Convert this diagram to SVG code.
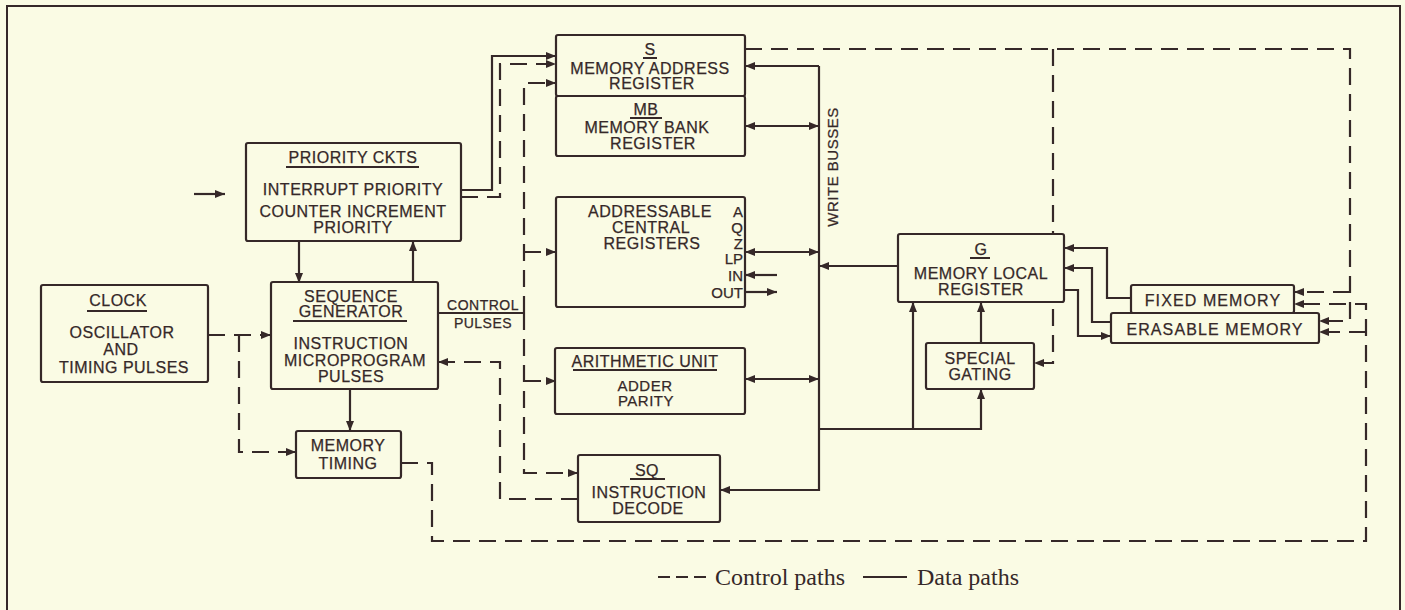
<svg xmlns="http://www.w3.org/2000/svg" width="1405" height="610" viewBox="0 0 1405 610">
<style>
.bg{fill:#fafbe4}
.box{fill:#fafbe4;stroke:#352828;stroke-width:2.2}
.d{fill:none;stroke:#352828;stroke-width:2.2}
.c{fill:none;stroke:#352828;stroke-width:2.2;stroke-dasharray:17 9}
.t{font-family:"Liberation Sans",Arial,sans-serif;font-size:16px;fill:#352828;text-anchor:middle;letter-spacing:0.5px;stroke:#352828;stroke-width:0.25px}
.w{letter-spacing:1.1px}
.s{font-size:14px}
.r{text-anchor:end;font-size:15px;letter-spacing:0}
.u{stroke:#352828;stroke-width:2}
.lg{font-family:"Liberation Serif","Times New Roman",serif;font-size:24px;fill:#352828}
</style>
<defs>
<marker id="ah" viewBox="0 0 10 9" refX="10" refY="4.5" markerWidth="10" markerHeight="9" markerUnits="userSpaceOnUse" orient="auto-start-reverse">
<path d="M0,0.5 L10,4.5 L0,8.5 z" fill="#352828"/>
</marker>
</defs>
<rect class="bg" x="0" y="0" width="1405" height="610"/>
<rect x="7" y="6" width="1393" height="620" fill="none" stroke="#352828" stroke-width="2"/>

<g id="connectors">
<path class="d" d="M194,194 H225" marker-end="url(#ah)"/>
<path class="d" d="M299,241 V283" marker-end="url(#ah)"/>
<path class="d" d="M413,283 V241" marker-end="url(#ah)"/>
<path class="d" d="M350,389 V431" marker-end="url(#ah)"/>
<path class="d" d="M461,190 H492 V56 H556" marker-end="url(#ah)"/>
<path class="d" d="M438,313 H524"/>
<path class="d" d="M819,66 H745" marker-end="url(#ah)"/>
<path class="d" d="M819,66 V490 H720" marker-end="url(#ah)"/>
<path class="d" d="M745,126 H819" marker-start="url(#ah)" marker-end="url(#ah)"/>
<path class="d" d="M745,252 H819" marker-start="url(#ah)" marker-end="url(#ah)"/>
<path class="d" d="M777,275 H745" marker-end="url(#ah)"/>
<path class="d" d="M745,292 H777" marker-end="url(#ah)"/>
<path class="d" d="M745,379 H819" marker-start="url(#ah)" marker-end="url(#ah)"/>
<path class="d" d="M898,266 H819" marker-end="url(#ah)"/>
<path class="d" d="M819,429 H981 V389" marker-end="url(#ah)"/>
<path class="d" d="M913,429 V302" marker-end="url(#ah)"/>
<path class="d" d="M981,343 V302" marker-end="url(#ah)"/>
<path class="d" d="M1131,298 H1107 V248 H1064" marker-end="url(#ah)"/>
<path class="d" d="M1111,322 H1092 V268 H1064" marker-end="url(#ah)"/>
<path class="d" d="M1064,290 H1078 V336 H1111" marker-end="url(#ah)"/>
<path class="c" d="M208,335 H271" marker-end="url(#ah)"/>
<path class="c" d="M239,335 V452 H296" marker-end="url(#ah)"/>
<path class="c" d="M461,197 H500 V64 H556" marker-end="url(#ah)"/>
<path class="c" d="M524,313 V83 H556" marker-end="url(#ah)"/>
<path class="c" d="M524,252 H556" marker-end="url(#ah)"/>
<path class="c" d="M524,381 H556" marker-end="url(#ah)"/>
<path class="c" d="M524,313 V473 H578" marker-end="url(#ah)"/>
<path class="c" d="M578,499 H500 V362 H438" marker-end="url(#ah)"/>
<path class="c" d="M401,463 H432 V541 H1366 V304 H1294" marker-end="url(#ah)"/>
<path class="c" d="M1366,332 H1319" marker-end="url(#ah)"/>
<path class="c" d="M745,49 H1350 V321 H1319" marker-end="url(#ah)"/>
<path class="c" d="M1350,292 H1294" marker-end="url(#ah)"/>
<path class="c" d="M1053,49 V363 H1034" marker-end="url(#ah)"/>
<text class="t s" x="483" y="310">CONTROL</text>
<text class="t s" x="483" y="328">PULSES</text>
<text class="t" x="0" y="0" transform="translate(838,167) rotate(-90)" style="font-size:15px">WRITE BUSSES</text>
</g>

<g id="priority">
<rect class="box" x="246" y="143" width="215" height="98" rx="2"/>
<text class="t" x="353" y="163">PRIORITY CKTS</text>
<line class="u" x1="286" y1="167" x2="419" y2="167"/>
<text class="t" x="353" y="195">INTERRUPT PRIORITY</text>
<text class="t" x="353" y="217">COUNTER INCREMENT</text>
<text class="t" x="353" y="233">PRIORITY</text>
</g>

<g id="clock">
<rect class="box" x="41" y="285" width="167" height="97" rx="2"/>
<text class="t" x="118" y="306">CLOCK</text>
<line class="u" x1="87" y1="311" x2="147" y2="311"/>
<text class="t" x="122" y="338">OSCILLATOR</text>
<text class="t" x="121" y="355">AND</text>
<text class="t" x="124" y="373">TIMING PULSES</text>
</g>

<g id="seqgen">
<rect class="box" x="271" y="282" width="167" height="107" rx="2"/>
<text class="t" x="351" y="302">SEQUENCE</text>
<text class="t" x="351" y="317">GENERATOR</text>
<line class="u" x1="293" y1="321" x2="407" y2="321"/>
<text class="t" x="351" y="349">INSTRUCTION</text>
<text class="t" x="355" y="366">MICROPROGRAM</text>
<text class="t" x="351" y="382">PULSES</text>
</g>

<g id="memtiming">
<rect class="box" x="296" y="431" width="105" height="47" rx="2"/>
<text class="t" x="348" y="451">MEMORY</text>
<text class="t" x="348" y="469">TIMING</text>
</g>

<g id="sreg">
<rect class="box" x="556" y="35" width="189" height="61" rx="2"/>
<text class="t" x="650" y="55">S</text>
<line class="u" x1="643" y1="58" x2="657" y2="58"/>
<text class="t" x="650" y="74">MEMORY ADDRESS</text>
<text class="t" x="652" y="89">REGISTER</text>
</g>

<g id="mbreg">
<rect class="box" x="556" y="96" width="189" height="60" rx="2"/>
<text class="t" x="646" y="115">MB</text>
<line class="u" x1="630" y1="118" x2="662" y2="118"/>
<text class="t" x="647" y="133">MEMORY BANK</text>
<text class="t" x="653" y="149">REGISTER</text>
</g>

<g id="central">
<rect class="box" x="556" y="197" width="189" height="110" rx="2"/>
<text class="t" x="650" y="217">ADDRESSABLE</text>
<text class="t" x="651" y="233">CENTRAL</text>
<text class="t" x="652" y="249">REGISTERS</text>
<text class="t r" x="743" y="217">A</text>
<text class="t r" x="743" y="233">Q</text>
<text class="t r" x="743" y="249">Z</text>
<text class="t r" x="743" y="264">LP</text>
<text class="t r" x="743" y="281">IN</text>
<text class="t r" x="743" y="298">OUT</text>
</g>

<g id="arith">
<rect class="box" x="555" y="348" width="190" height="66" rx="2"/>
<text class="t" x="645" y="367">ARITHMETIC UNIT</text>
<line class="u" x1="573" y1="370" x2="717" y2="370"/>
<text class="t" x="645" y="391" style="font-size:15px">ADDER</text>
<text class="t" x="646" y="406" style="font-size:15px">PARITY</text>
</g>

<g id="sq">
<rect class="box" x="578" y="455" width="142" height="67" rx="2"/>
<text class="t" x="647" y="476">SQ</text>
<line class="u" x1="630" y1="479" x2="665" y2="479"/>
<text class="t" x="649" y="498">INSTRUCTION</text>
<text class="t" x="648" y="514">DECODE</text>
</g>

<g id="greg">
<rect class="box" x="898" y="234" width="166" height="68" rx="2"/>
<text class="t" x="981" y="255">G</text>
<line class="u" x1="970" y1="258" x2="990" y2="258"/>
<text class="t" x="981" y="279">MEMORY LOCAL</text>
<text class="t" x="981" y="295">REGISTER</text>
</g>

<g id="special">
<rect class="box" x="926" y="343" width="108" height="46" rx="2"/>
<text class="t" x="980" y="364">SPECIAL</text>
<text class="t" x="980" y="380">GATING</text>
</g>

<g id="fixed">
<rect class="box" x="1131" y="285" width="163" height="28" rx="2"/>
<text class="t w" x="1213" y="306">FIXED MEMORY</text>
</g>

<g id="erasable">
<rect class="box" x="1111" y="313" width="208" height="30" rx="2"/>
<text class="t w" x="1215" y="335">ERASABLE MEMORY</text>
</g>

<g id="legend">
<path d="M658,577 H707" fill="none" stroke="#352828" stroke-width="2" stroke-dasharray="12 6"/>
<text class="lg" x="715" y="585">Control paths</text>
<path d="M863,577 H907" fill="none" stroke="#352828" stroke-width="2"/>
<text class="lg" x="917" y="585">Data paths</text>
</g>
</svg>
